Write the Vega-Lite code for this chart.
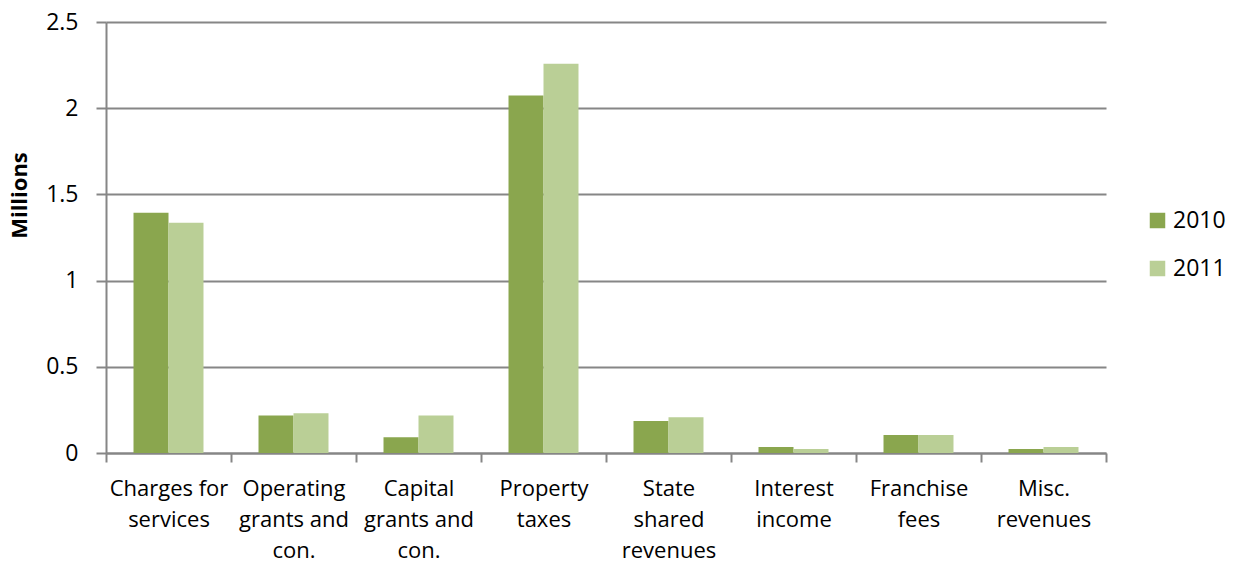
{
  "$schema": "https://vega.github.io/schema/vega-lite/v6.json",
  "width": 1000,
  "height": 431,
  "autosize": {"type": "none"},
  "padding": {"left": 106, "top": 22, "right": 137, "bottom": 111},
  "background": "white",
  "config": {
    "font": "Open Sans",
    "view": {"stroke": null}
  },
  "data": {
    "values": [
      {"category": "Charges for services", "year": "2010", "value": 1.393},
      {"category": "Charges for services", "year": "2011", "value": 1.335},
      {"category": "Operating grants and con.", "year": "2010", "value": 0.218},
      {"category": "Operating grants and con.", "year": "2011", "value": 0.230},
      {"category": "Capital grants and con.", "year": "2010", "value": 0.091},
      {"category": "Capital grants and con.", "year": "2011", "value": 0.218},
      {"category": "Property taxes", "year": "2010", "value": 2.074},
      {"category": "Property taxes", "year": "2011", "value": 2.258},
      {"category": "State shared revenues", "year": "2010", "value": 0.186},
      {"category": "State shared revenues", "year": "2011", "value": 0.207},
      {"category": "Interest income", "year": "2010", "value": 0.035},
      {"category": "Interest income", "year": "2011", "value": 0.023},
      {"category": "Franchise fees", "year": "2010", "value": 0.105},
      {"category": "Franchise fees", "year": "2011", "value": 0.105},
      {"category": "Misc. revenues", "year": "2010", "value": 0.023},
      {"category": "Misc. revenues", "year": "2011", "value": 0.035}
    ]
  },
  "mark": {"type": "bar"},
  "encoding": {
    "x": {
      "field": "category",
      "type": "nominal",
      "sort": null,
      "scale": {"paddingInner": 0, "paddingOuter": 0},
      "axis": {
        "title": null,
        "labelAngle": 0,
        "labelFontSize": 22,
        "labelColor": "#000000",
        "labelPadding": 16,
        "labelLineHeight": 31,
        "labelBaseline": "top",
        "tickBand": "extent",
        "tickSize": 9,
        "tickColor": "#868686",
        "tickWidth": 2,
        "domainColor": "#868686",
        "domainWidth": 2,
        "labelExpr": "{'Charges for services': ['Charges for','services'], 'Operating grants and con.': ['Operating','grants and','con.'], 'Capital grants and con.': ['Capital','grants and','con.'], 'Property taxes': ['Property','taxes'], 'State shared revenues': ['State','shared','revenues'], 'Interest income': ['Interest','income'], 'Franchise fees': ['Franchise','fees'], 'Misc. revenues': ['Misc.','revenues']}[datum.value]"
      }
    },
    "xOffset": {
      "field": "year",
      "type": "nominal",
      "scale": {"paddingInner": 0, "paddingOuter": 0.786}
    },
    "y": {
      "field": "value",
      "type": "quantitative",
      "scale": {"domain": [0, 2.5], "nice": false},
      "axis": {
        "title": "Millions",
        "titleFontSize": 22,
        "titleFontWeight": "bold",
        "titleColor": "#000000",
        "titleAngle": -90,
        "titleX": -87,
        "titleY": 173,
        "titleAlign": "center",
        "titleBaseline": "middle",
        "values": [0, 0.5, 1, 1.5, 2, 2.5],
        "labelExpr": "datum.value",
        "labelFontSize": 23,
        "labelColor": "#000000",
        "labelPadding": 18,
        "tickSize": 10,
        "tickColor": "#868686",
        "tickWidth": 2,
        "domainColor": "#868686",
        "domainWidth": 2,
        "grid": true,
        "gridColor": "#868686",
        "gridWidth": 2
      }
    },
    "color": {
      "field": "year",
      "type": "nominal",
      "scale": {"domain": ["2010", "2011"], "range": ["#8aa64e", "#bacf96"]},
      "legend": {
        "title": null,
        "orient": "none",
        "legendX": 1040,
        "legendY": 187,
        "symbolType": "square",
        "symbolSize": 240,
        "symbolStrokeWidth": 0,
        "labelFontSize": 23,
        "labelColor": "#000000",
        "labelOffset": 4,
        "rowPadding": 24
      }
    }
  }
}
